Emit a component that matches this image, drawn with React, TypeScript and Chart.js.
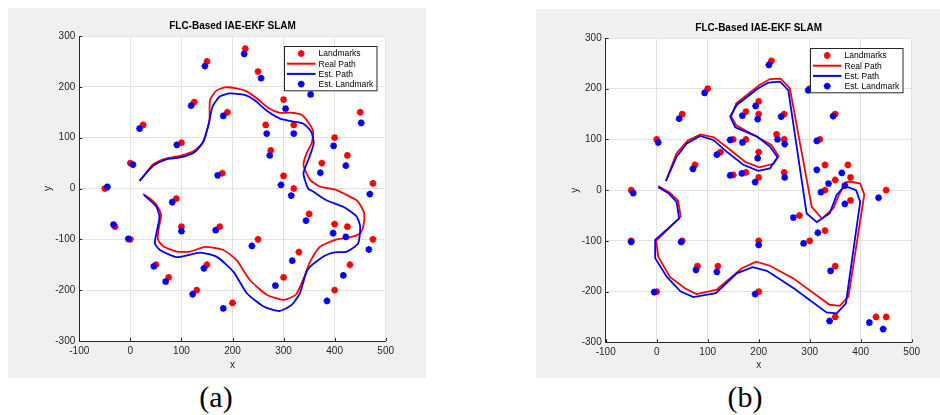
import React, { useEffect, useRef } from "react";
import { Chart, registerables } from "chart.js";

Chart.register(...registerables);

type Pt = [number, number];

// ---------------- text / axes ----------------
const chartTitle = "FLC-Based IAE-EKF SLAM";
const seriesLabels = ["Landmarks", "Real Path", "Est. Path", "Est. Landmark"];
const xAxisLabel = "x";
const yAxisLabel = "y";
const xLimits = [-100, 500];
const yLimits = [-300, 300];
const tickStep = 100;
const captions = ["(a)", "(b)"];

// ---------------- panel (a) data ----------------
const landmarksA: Pt[] = [
  [-50, 0], [-30, -75], [0, -100], [0, 50], [25, 125], [100, 90], [125, 170], [150, 250],
  [225, 275], [250, 230], [190, 150], [300, 175], [265, 125], [320, 125], [275, 75], [300, 25],
  [320, 0], [180, 30], [90, -20], [100, -75], [175, -75], [250, -100], [350, -50], [330, -125],
  [300, -175], [200, -225], [130, -200], [150, -150], [75, -175], [50, -150], [375, 50], [400, 100],
  [425, 65], [450, 150], [475, 10], [400, -70], [425, -75], [475, -100], [430, -150], [400, -200],
];

const estLandmarksA: Pt[] = [
  [-45, 3], [-33, -71], [-4, -99], [5, 47], [18, 118], [91, 86], [119, 163], [146, 241],
  [223, 265], [256, 217], [182, 143], [304, 157], [267, 108], [320, 108], [273, 65], [295, 7],
  [315, -14], [171, 26], [82, -27], [100, -84], [167, -82], [238, -113], [344, -63], [317, -142],
  [284, -191], [182, -236], [122, -208], [144, -157], [69, -183], [46, -153], [372, 31], [398, 84],
  [422, 45], [452, 129], [469, -11], [397, -88], [422, -95], [467, -120], [417, -171], [385, -221],
  [353, 185],
];

const realPathA: Pt[] = [
  [18, 15], [30, 30], [45, 48], [69, 59], [97, 64], [125, 74], [143, 92], [150, 115], [155, 134],
  [156, 174], [168, 192], [185, 199], [208, 197], [228, 191], [248, 177], [271, 158], [293, 149],
  [316, 149], [335, 145], [348, 131], [358, 112], [355, 89], [345, 69], [339, 46], [352, 17],
  [371, 4], [404, -3], [424, -13], [443, -23], [450, -32], [458, -49], [456, -75], [450, -88],
  [430, -96], [401, -101], [371, -115], [352, -144], [340, -175], [324, -209], [300, -219],
  [267, -209], [234, -180], [208, -141], [182, -121], [146, -115], [117, -124], [91, -124],
  [65, -114], [54, -101], [55, -82], [60, -52], [51, -32], [40, -21], [25, -11],
];

const estPathA: Pt[] = [
  [18, 15], [45, 45], [69, 57], [97, 61], [125, 71], [141, 89], [152, 121], [161, 161], [175, 181],
  [195, 187], [224, 184], [243, 174], [266, 154], [292, 138], [312, 133], [338, 128], [354, 112],
  [359, 89], [351, 63], [339, 30], [348, 0], [358, -6], [384, -23], [417, -36], [443, -55],
  [450, -75], [446, -108], [424, -124], [397, -126], [378, -134], [347, -160], [332, -206],
  [316, -229], [292, -241], [261, -232], [228, -206], [202, -164], [170, -135], [137, -126],
  [91, -135], [58, -121], [48, -108], [51, -88], [57, -56], [51, -36], [38, -23], [27, -13],
];

// ---------------- panel (b) data ----------------
const landmarksB: Pt[] = [
  [-50, 0], [0, 100], [50, 150], [100, 200], [75, 50], [125, 75], [150, 100], [175, 100],
  [175, 155], [200, 175], [200, 150], [200, 75], [200, 25], [175, 35], [150, 30], [225, 255],
  [250, 150], [235, 110], [250, 100], [250, 35], [300, 200], [350, 150], [320, 100], [330, 50],
  [350, 20], [375, 50], [380, 25], [330, 0], [380, -20], [280, -50], [330, -80], [300, -100],
  [350, -150], [350, -250], [430, -250], [450, -250], [450, 0], [200, -100], [200, -200],
  [120, -150], [80, -150], [50, -100], [0, -200], [-50, -100],
];

const estLandmarksB: Pt[] = [
  [-46, -6], [3, 94], [44, 141], [94, 192], [71, 42], [118, 70], [144, 99], [168, 94],
  [168, 147], [194, 166], [198, 140], [198, 63], [193, 16], [167, 33], [144, 29], [220, 247],
  [244, 145], [237, 100], [251, 91], [251, 25], [297, 197], [346, 146], [314, 97], [314, 40],
  [363, 34], [337, 13], [369, 9], [322, -4], [369, -27], [268, -54], [316, -84], [288, -105],
  [341, -159], [339, -258], [417, -261], [444, -274], [435, -15], [200, -108], [193, -205],
  [118, -161], [77, -157], [48, -102], [-5, -201], [-50, -102],
];

const realPathB: Pt[] = [
  [18, 18], [39, 73], [61, 98], [86, 110], [112, 104], [141, 82], [173, 56], [201, 45], [229, 52],
  [239, 67], [225, 89], [156, 128], [146, 145], [156, 171], [201, 207], [222, 219], [243, 220],
  [261, 201], [304, -33], [324, -56], [346, -36], [356, -13], [369, 15], [379, 17], [399, 13],
  [407, -9], [376, -210], [359, -228], [339, -226], [268, -174], [222, -149], [195, -141],
  [167, -154], [118, -196], [78, -205], [56, -194], [26, -171], [3, -131], [-1, -100], [47, -52],
  [42, -21], [26, -5], [3, 8],
];

const estPathB: Pt[] = [
  [18, 18], [39, 66], [59, 92], [85, 107], [111, 99], [137, 76], [170, 50], [199, 38], [222, 43],
  [237, 65], [222, 86], [196, 106], [154, 124], [144, 145], [157, 168], [199, 201], [219, 212],
  [242, 214], [258, 197], [294, -46], [314, -63], [339, -46], [353, -9], [369, 8], [391, 0],
  [399, -23], [371, -223], [353, -243], [333, -241], [268, -193], [216, -159], [188, -152],
  [157, -164], [116, -203], [72, -211], [47, -200], [20, -171], [-3, -134], [-3, -98], [44, -56],
  [39, -23], [23, -6], [3, 6],
];

// ---------------- styling ----------------
const FONT = '"Liberation Sans", Arial, Helvetica, sans-serif';
const INK = "#262626";
const RED = "#ff0000";
const BLUE = "#0000ff";
const GRID = "#e2e2e2";
const FIG_BG = "#f0f0f0";

interface Layout {
  left: number;
  top: number;
  width: number;
  height: number;
  axisLeft: number; // y-axis box width
  padRight: number;
  padTop: number;
  axisBottom: number; // x-axis box height
  xTitlePad: number;
  yTitlePad: number;
}

const layoutA: Layout = {
  left: 8, top: 8, width: 418, height: 370,
  axisLeft: 71.3, padRight: 40.3, padTop: 28, axisBottom: 37,
  xTitlePad: 7, yTitlePad: 34,
};

const layoutB: Layout = {
  left: 536, top: 9, width: 404, height: 369,
  axisLeft: 69.7, padRight: 28.3, padTop: 29, axisBottom: 35.7,
  xTitlePad: 6.5, yTitlePad: 33,
};

function drawStar(ctx: CanvasRenderingContext2D, x: number, y: number, r: number, color: string) {
  ctx.save();
  ctx.strokeStyle = color;
  ctx.lineWidth = 2;
  ctx.beginPath();
  for (let k = 0; k < 4; k++) {
    const ang = (k * Math.PI) / 4;
    const dx = Math.cos(ang) * r;
    const dy = Math.sin(ang) * r;
    ctx.moveTo(x - dx, y - dy);
    ctx.lineTo(x + dx, y + dy);
  }
  ctx.stroke();
  ctx.restore();
}

const decorPlugin = {
  id: "matlabDecor",
  beforeDraw(chart: any) {
    const { ctx, chartArea: a } = chart;
    ctx.save();
    ctx.fillStyle = "#ffffff";
    ctx.fillRect(a.left, a.top, a.right - a.left, a.bottom - a.top);
    ctx.restore();
  },
  afterDraw(chart: any) {
    const { ctx, chartArea: a, scales } = chart;
    ctx.save();
    // inner tick marks
    ctx.strokeStyle = INK;
    ctx.lineWidth = 1;
    ctx.beginPath();
    scales.x.ticks.forEach((t: any) => {
      const px = Math.round(scales.x.getPixelForValue(t.value)) + 0.5;
      ctx.moveTo(px, a.bottom);
      ctx.lineTo(px, a.bottom - 3);
    });
    scales.y.ticks.forEach((t: any) => {
      const py = Math.round(scales.y.getPixelForValue(t.value)) + 0.5;
      ctx.moveTo(a.left, py);
      ctx.lineTo(a.left + 3, py);
    });
    ctx.stroke();

    // title
    ctx.fillStyle = "#000000";
    ctx.font = `bold 10px ${FONT}`;
    ctx.textAlign = "center";
    ctx.textBaseline = "middle";
    ctx.fillText(chartTitle, (a.left + a.right) / 2, a.top - 9.5);

    // legend box
    const w = 92.5;
    const h = 44.3;
    const lx = Math.round(a.right - 9 - w) + 0.5;
    const ly = Math.round(a.top + 9.7) + 0.5;
    ctx.fillStyle = "#ffffff";
    ctx.fillRect(lx, ly, w, h);
    ctx.strokeStyle = INK;
    ctx.lineWidth = 1;
    ctx.strokeRect(lx, ly, w, h);

    ctx.font = `8.5px ${FONT}`;
    ctx.textAlign = "left";
    ctx.textBaseline = "middle";
    chart.data.datasets.forEach((ds: any, i: number) => {
      const yy = ly + 7 + i * 10.2;
      if (ds.showLine) {
        ctx.strokeStyle = ds.borderColor;
        ctx.lineWidth = 2;
        ctx.beginPath();
        ctx.moveTo(lx + 2.5, yy);
        ctx.lineTo(lx + 31, yy);
        ctx.stroke();
      } else {
        drawStar(ctx, lx + 16.7, yy, 3.4, ds.borderColor);
      }
      ctx.fillStyle = "#000000";
      ctx.fillText(ds.label, lx + 34, yy + 0.5);
    });
    ctx.restore();
  },
};

interface PanelProps {
  layout: Layout;
  landmarks: Pt[];
  realPath: Pt[];
  estPath: Pt[];
  estLandmarks: Pt[];
  tension: number;
}

function SlamPanel({ layout, landmarks, realPath, estPath, estLandmarks, tension }: PanelProps) {
  const ref = useRef<HTMLCanvasElement>(null);

  useEffect(() => {
    if (!ref.current) return;
    const toXY = (p: Pt[]) => p.map(([x, y]) => ({ x, y }));
    const tickFont = { family: FONT, size: 10 };
    const chart = new Chart(ref.current, {
      type: "scatter",
      data: {
        datasets: [
          {
            label: seriesLabels[0],
            data: toXY(landmarks),
            showLine: false,
            pointStyle: "star",
            pointRadius: 3.4,
            pointHoverRadius: 3.4,
            pointBorderWidth: 2,
            borderColor: RED,
            backgroundColor: RED,
            order: 4,
          },
          {
            label: seriesLabels[1],
            data: toXY(realPath),
            showLine: true,
            pointRadius: 0,
            pointHoverRadius: 0,
            borderColor: RED,
            backgroundColor: RED,
            borderWidth: 1.8,
            tension,
            order: 3,
          },
          {
            label: seriesLabels[2],
            data: toXY(estPath),
            showLine: true,
            pointRadius: 0,
            pointHoverRadius: 0,
            borderColor: BLUE,
            backgroundColor: BLUE,
            borderWidth: 1.8,
            tension,
            order: 2,
          },
          {
            label: seriesLabels[3],
            data: toXY(estLandmarks),
            showLine: false,
            pointStyle: "star",
            pointRadius: 3.4,
            pointHoverRadius: 3.4,
            pointBorderWidth: 2,
            borderColor: BLUE,
            backgroundColor: BLUE,
            order: 1,
          },
        ],
      } as any,
      options: {
        responsive: false,
        animation: false,
        devicePixelRatio: 1,
        events: [],
        layout: { padding: { left: 0, right: layout.padRight, top: layout.padTop, bottom: 0 } },
        plugins: {
          legend: { display: false },
          title: { display: false },
          tooltip: { enabled: false },
        },
        scales: {
          x: {
            type: "linear",
            position: "bottom",
            min: xLimits[0],
            max: xLimits[1],
            ticks: { stepSize: tickStep, padding: 4, color: INK, font: tickFont, maxRotation: 0, autoSkip: false },
            grid: { color: GRID, drawTicks: false, lineWidth: 1 },
            border: { display: true, color: INK, width: 1 },
            title: {
              display: true,
              text: xAxisLabel,
              color: INK,
              font: tickFont,
              padding: { top: 0, bottom: layout.xTitlePad },
            },
            afterFit: (s: any) => {
              s.height = layout.axisBottom;
            },
          },
          y: {
            type: "linear",
            position: "left",
            min: yLimits[0],
            max: yLimits[1],
            ticks: { stepSize: tickStep, padding: 4, color: INK, font: tickFont, autoSkip: false },
            grid: { color: GRID, drawTicks: false, lineWidth: 1 },
            border: { display: true, color: INK, width: 1 },
            title: {
              display: true,
              text: yAxisLabel,
              color: INK,
              font: tickFont,
              padding: { top: layout.yTitlePad, bottom: 0 },
            },
            afterFit: (s: any) => {
              s.width = layout.axisLeft;
            },
          },
        },
      } as any,
      plugins: [decorPlugin as any],
    });
    return () => chart.destroy();
  }, [layout, landmarks, realPath, estPath, estLandmarks, tension]);

  return (
    <div
      style={{
        position: "absolute",
        left: layout.left,
        top: layout.top,
        width: layout.width,
        height: layout.height,
        background: FIG_BG,
      }}
    >
      <canvas
        ref={ref}
        width={layout.width}
        height={layout.height}
        style={{ display: "block", width: layout.width, height: layout.height }}
      />
    </div>
  );
}

const captionStyle = (cx: number): React.CSSProperties => ({
  position: "absolute",
  left: cx,
  top: 382,
  transform: "translateX(-50%)",
  fontFamily: '"Liberation Serif", "Times New Roman", serif',
  fontSize: 30,
  lineHeight: "30px",
  color: "#000",
  whiteSpace: "nowrap",
});

export default function App() {
  return (
    <div
      style={{
        position: "absolute",
        left: 0,
        top: 0,
        width: 940,
        height: 415,
        background: "#ffffff",
        overflow: "hidden",
      }}
    >
      <SlamPanel
        layout={layoutA}
        landmarks={landmarksA}
        realPath={realPathA}
        estPath={estPathA}
        estLandmarks={estLandmarksA}
        tension={0.2}
      />
      <SlamPanel
        layout={layoutB}
        landmarks={landmarksB}
        realPath={realPathB}
        estPath={estPathB}
        estLandmarks={estLandmarksB}
        tension={0}
      />
      <div style={captionStyle(216)}>{captions[0]}</div>
      <div style={captionStyle(745)}>{captions[1]}</div>
    </div>
  );
}
